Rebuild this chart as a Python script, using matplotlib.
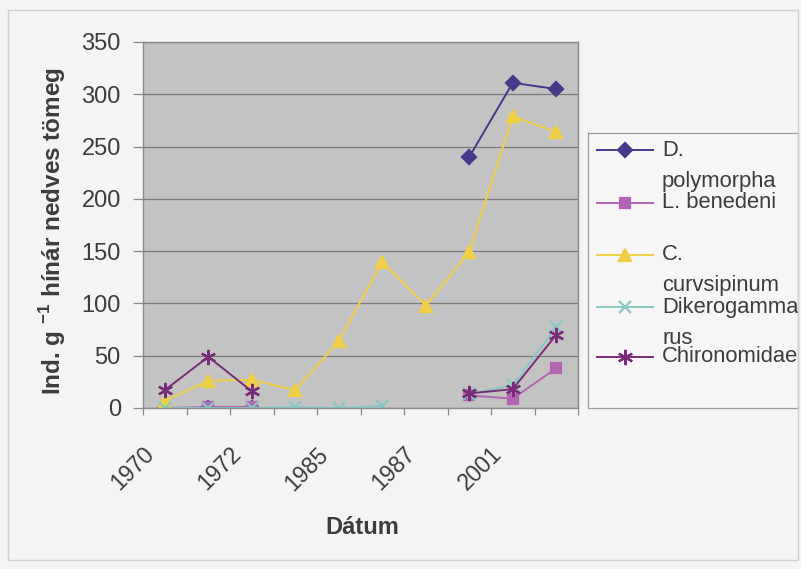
import numpy as np
import matplotlib
matplotlib.use("Agg")
import matplotlib.pyplot as plt
import matplotlib.transforms as mtransforms

# categories on the x axis (only every second one is labelled)
cat_labels = ['1970', '', '1972', '', '1985', '', '1987', '', '2001', '']

nan = np.nan
# Ind. g-1 wet weight, per category
d_polymorpha = [0, 0, 0, nan, nan, nan, nan, 240, 311, 305]
l_benedeni = [0, 1, 1, nan, nan, nan, nan, 12, 9, 38]
c_curvsipinum = [7, 26, 27, 17, 64, 140, 98, 149, 279, 264]
dikerogammarus = [0, 0, 0, 1, 0, 2, nan, 13, 22, 77]
chironomidae = [17, 49, 16, nan, nan, nan, nan, 14, 18, 70]

series_names = ['D.\npolymorpha', 'L. benedeni', 'C.\ncurvsipinum',
                'Dikerogamma\nrus', 'Chironomidae']
series_data = [d_polymorpha, l_benedeni, c_curvsipinum, dikerogammarus, chironomidae]
colors = ['#47398a', '#b464b4', '#f0cf45', '#86c9c4', '#7a2b78']
markers = ['D', 's', '^', 'x', (6, 2, 0)]
msizes = [7, 7, 9, 9, 11]

plt.rcParams['font.family'] = ['Liberation Sans', 'DejaVu Sans']
text_col = '#3c3c3c'

fig = plt.figure(figsize=(8.01, 5.69), dpi=100, facecolor='#f5f3f3')
W, H = 801, 569

# outer chart border
fig.patches.append(plt.Rectangle((8 / W, 1 - 560 / H), 790 / W, 550 / H,
                                 transform=fig.transFigure, fill=False,
                                 edgecolor='#d0d0d0', lw=1))

ax = fig.add_axes([143 / W, 1 - 408 / H, 435 / W, 366 / H])
ax.set_facecolor('#c3c3c3')

x = np.arange(len(cat_labels))
for name, y, c, m, ms in zip(series_names, series_data, colors, markers, msizes):
    ax.plot(x, y, color=c, lw=1.4, marker=m, markersize=ms,
            markerfacecolor=c, markeredgecolor=c, markeredgewidth=1.6)

ax.set_xlim(-0.5, len(cat_labels) - 0.5)
ax.set_ylim(0, 350)
ax.set_yticks(np.arange(0, 351, 50))
ax.yaxis.grid(True, color='#7a7a7a', lw=0.9)
ax.set_axisbelow(True)
for s in ax.spines.values():
    s.set_color('#8a8a8a')
    s.set_linewidth(1.0)

ax.tick_params(axis='y', length=7, width=0.9, color='#8a8a8a', pad=9,
               labelsize=17, labelcolor=text_col)
ax.set_xticks(np.arange(-0.5, len(cat_labels)), labels=[])
ax.tick_params(axis='x', which='major', length=5, width=0.9, color='#8a8a8a')
ax.set_xticks(x, labels=cat_labels, minor=True)
ax.tick_params(axis='x', which='minor', length=0, pad=25, labelsize=16.5,
               labelcolor=text_col)
offset = mtransforms.ScaledTranslation(-16 / 72, 0, fig.dpi_scale_trans)
for lab in ax.get_xticklabels(minor=True):
    lab.set_rotation(45)
    lab.set_ha('right')
    lab.set_va('top')
    lab.set_rotation_mode('anchor')
    lab.set_transform(lab.get_transform() + offset)

fig.text(53 / W, 1 - 231 / H, 'Ind. g $^{\\mathregular{-1}}$ hínár nedves tömeg',
         rotation=90, ha='center', va='center', fontsize=17.5,
         fontweight='bold', color=text_col)
fig.text(362 / W, 1 - 527 / H, 'Dátum', ha='center', va='center',
         fontsize=17, fontweight='bold', color=text_col)

# legend box, drawn as in the spreadsheet (handle beside first wrapped line)
lax = fig.add_axes([588 / W, 1 - 408 / H, 210 / W, 275 / H])
lax.set_xlim(0, 210)
lax.set_ylim(275, 0)
lax.set_facecolor('#f7f5f5')
lax.set_xticks([])
lax.set_yticks([])
for s in lax.spines.values():
    s.set_color('#9a9a9a')
    s.set_linewidth(0.9)
entry_y = [17, 70, 122, 174, 224]
for yy, name, c, m, ms in zip(entry_y, series_names, colors, markers, msizes):
    lax.plot([9, 65], [yy, yy], color=c, lw=1.4)
    lax.plot([37], [yy], color=c, marker=m, markersize=ms,
             markerfacecolor=c, markeredgecolor=c, markeredgewidth=1.6)
    for i, line in enumerate(name.split('\n')):
        lax.text(74, yy + i * 31, line, ha='left', va='center',
                 fontsize=15.8, color=text_col)

fig.savefig('out.png', dpi=100, facecolor=fig.get_facecolor())
